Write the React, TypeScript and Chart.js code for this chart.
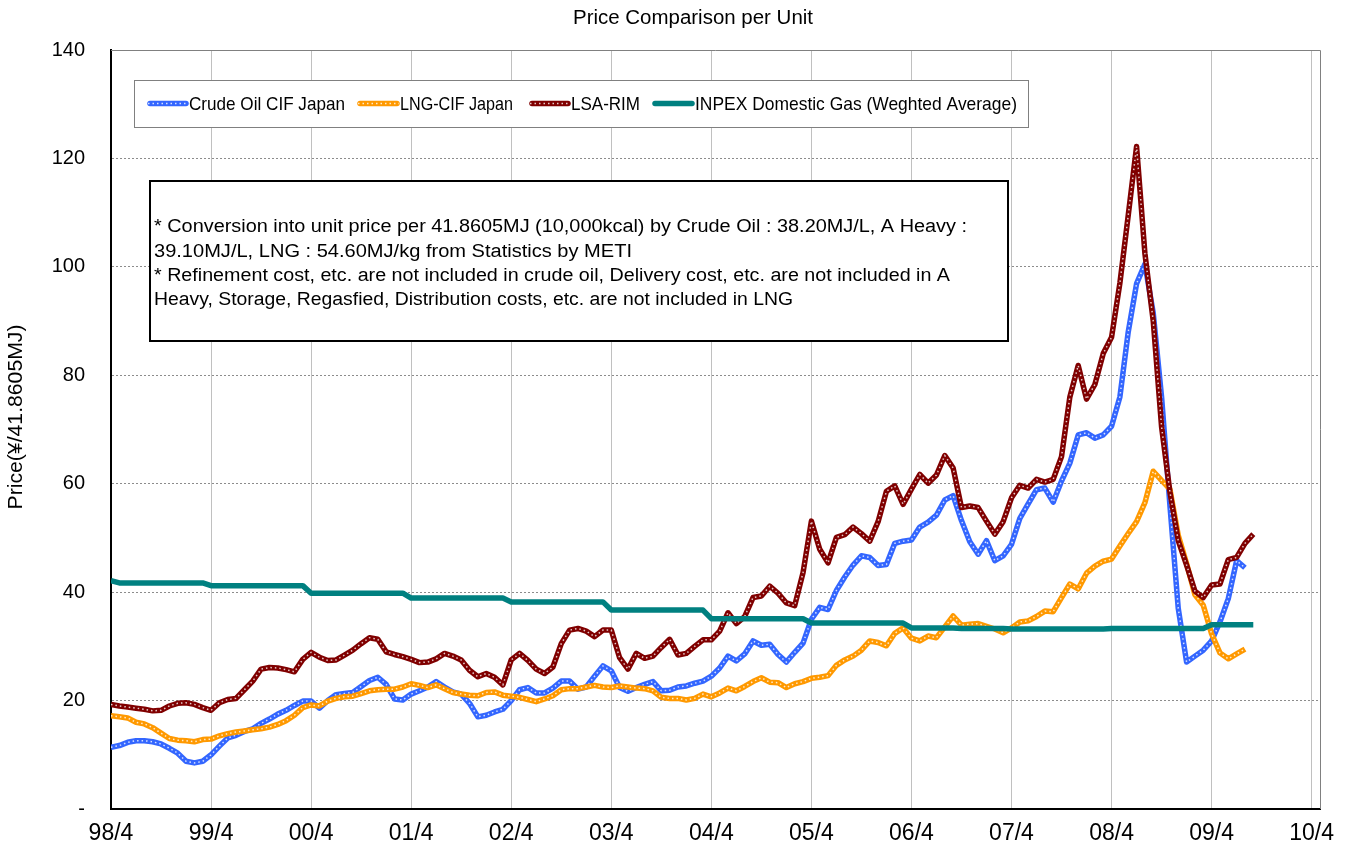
import React, { useEffect, useRef } from 'react';
import { Chart, registerables } from 'chart.js';

Chart.register(...registerables);

const FONT = "'Liberation Sans', Arial, sans-serif";

// month index 0 = 98/4
const xTickValues = [0, 12, 24, 36, 48, 60, 72, 84, 96, 108, 120, 132, 144];
const xTickLabels = ['98/4', '99/4', '00/4', '01/4', '02/4', '03/4', '04/4', '05/4', '06/4', '07/4', '08/4', '09/4', '10/4'];

const seriesNames = ['Crude Oil CIF Japan', 'LNG-CIF Japan', 'LSA-RIM', 'INPEX Domestic Gas (Weghted Average)'];
const seriesColors = ['#3366ff', '#ff9900', '#800000', '#008080'];

const crudeOil = [
  11.4, 11.7, 12.3, 12.6, 12.6, 12.4, 12.0, 11.2, 10.3, 8.8,
  8.5, 8.8, 10.0, 11.6, 13.1, 13.6, 14.3, 14.8, 15.8, 16.6,
  17.5, 18.2, 19.1, 19.9, 19.9, 18.6, 20.0, 21.1, 21.3, 21.5,
  22.6, 23.7, 24.3, 23.0, 20.3, 20.1, 21.2, 21.8, 22.5, 23.5,
  22.5, 21.6, 21.2, 19.5, 17.0, 17.3, 17.9, 18.4, 20.0, 22.0,
  22.4, 21.4, 21.4, 22.3, 23.6, 23.6, 22.1, 22.5, 24.5, 26.4,
  25.5, 22.4, 21.7, 22.4, 23.0, 23.5, 21.8, 21.9, 22.5, 22.7,
  23.2, 23.6, 24.5, 26.0, 28.2, 27.3, 28.6, 31.0, 30.2, 30.4,
  28.5, 27.1, 28.9, 30.6, 35.0, 37.2, 36.8, 40.3, 42.8, 45.0,
  46.7, 46.4, 44.9, 45.1, 49.0, 49.4, 49.6, 52.0, 52.9, 54.2,
  57.0, 57.8, 53.2, 49.3, 47.0, 49.5, 45.8, 46.7, 48.8, 53.6,
  56.3, 58.9, 59.2, 56.6, 60.5, 63.8, 69.0, 69.4, 68.4, 69.0,
  70.6, 76.0, 88.0, 96.9, 100.5, 91.5, 76.0, 56.0, 37.0, 27.1,
  28.2, 29.3, 31.0, 34.5, 38.8, 45.8, 44.5,
];

const lngCif = [
  17.2, 17.0, 16.8, 16.0, 15.7, 15.0, 14.0, 13.0, 12.7, 12.6,
  12.4, 12.8, 12.9, 13.5, 13.9, 14.2, 14.4, 14.6, 14.8, 15.1,
  15.6, 16.3, 17.3, 18.7, 19.2, 19.0, 19.9, 20.4, 20.7, 20.8,
  21.3, 21.8, 22.0, 22.1, 22.1, 22.5, 23.1, 22.8, 22.4, 22.9,
  22.2, 21.5, 21.2, 21.0, 20.9, 21.5, 21.6, 21.0, 20.8, 20.6,
  20.2, 19.8, 20.3, 20.9, 22.0, 22.2, 22.2, 22.5, 22.8, 22.5,
  22.4, 22.7, 22.5, 22.3, 22.2, 21.8, 20.6, 20.4, 20.4, 20.1,
  20.4, 21.2, 20.7, 21.4, 22.3, 21.8, 22.6, 23.5, 24.2, 23.4,
  23.3, 22.4, 23.1, 23.5, 24.1, 24.3, 24.6, 26.5, 27.5, 28.2,
  29.3, 31.0, 30.7, 30.1, 32.4, 33.4, 31.5, 31.0, 31.9, 31.6,
  33.6, 35.6, 33.9, 34.1, 34.2, 33.7, 33.2, 32.5, 33.4, 34.5,
  34.7, 35.5, 36.5, 36.4, 39.0, 41.5, 40.6, 43.5, 44.8, 45.7,
  46.1, 48.5, 50.8, 53.0, 56.5, 62.3, 60.6, 59.0, 50.5, 45.3,
  39.5, 37.6, 32.3, 28.8, 27.7, 28.6, 29.5,
];

const lsaRim = [
  19.3, 19.0, 18.8, 18.6, 18.4, 18.1, 18.2, 19.0, 19.5, 19.6,
  19.3, 18.7, 18.2, 19.6, 20.2, 20.4, 22.0, 23.6, 25.8, 26.1,
  26.0, 25.7, 25.3, 27.6, 28.9, 28.0, 27.4, 27.5, 28.4, 29.3,
  30.5, 31.6, 31.3, 29.0, 28.5, 28.1, 27.6, 27.0, 27.1, 27.7,
  28.7, 28.2, 27.5, 25.6, 24.4, 25.0, 24.3, 22.9, 27.5, 28.7,
  27.4, 25.8, 25.0, 26.2, 30.5, 33.0, 33.3, 32.8, 31.8, 33.0,
  33.0, 27.9, 25.8, 28.7, 27.8, 28.2, 29.8, 31.3, 28.4, 28.7,
  30.0, 31.2, 31.2, 32.8, 36.2, 34.2, 35.5, 39.0, 39.3, 41.1,
  39.8, 38.0, 37.5, 43.6, 53.1, 47.9, 45.4, 50.1, 50.6, 52.0,
  50.8, 49.4, 53.0, 58.6, 59.6, 56.2, 59.0, 61.7, 60.1, 61.6,
  65.2, 62.9, 55.6, 55.9, 55.6, 53.1, 50.7, 53.0, 57.4, 59.7,
  59.2, 60.8, 60.3, 60.8, 65.0, 76.0, 81.8, 75.6, 78.3, 84.0,
  87.0, 97.0, 109.5, 122.2, 102.5, 90.0, 70.5, 58.5, 49.5, 45.0,
  40.2, 39.0, 41.3, 41.5, 46.0, 46.4, 49.0, 50.7,
];

const inpexGas = [
  42.1, 41.7, 41.7, 41.7, 41.7, 41.7, 41.7, 41.7, 41.7, 41.7,
  41.7, 41.7, 41.2, 41.2, 41.2, 41.2, 41.2, 41.2, 41.2, 41.2,
  41.2, 41.2, 41.2, 41.2, 39.8, 39.8, 39.8, 39.8, 39.8, 39.8,
  39.8, 39.8, 39.8, 39.8, 39.8, 39.8, 38.9, 38.9, 38.9, 38.9,
  38.9, 38.9, 38.9, 38.9, 38.9, 38.9, 38.9, 38.9, 38.2, 38.2,
  38.2, 38.2, 38.2, 38.2, 38.2, 38.2, 38.2, 38.2, 38.2, 38.2,
  36.7, 36.7, 36.7, 36.7, 36.7, 36.7, 36.7, 36.7, 36.7, 36.7,
  36.7, 36.7, 35.1, 35.1, 35.1, 35.1, 35.1, 35.1, 35.1, 35.1,
  35.1, 35.1, 35.1, 35.1, 34.3, 34.3, 34.3, 34.3, 34.3, 34.3,
  34.3, 34.3, 34.3, 34.3, 34.3, 34.3, 33.4, 33.4, 33.4, 33.4,
  33.4, 33.4, 33.3, 33.3, 33.3, 33.3, 33.3, 33.3, 33.2, 33.2,
  33.2, 33.2, 33.2, 33.2, 33.2, 33.2, 33.2, 33.2, 33.2, 33.2,
  33.3, 33.3, 33.3, 33.3, 33.3, 33.3, 33.3, 33.3, 33.3, 33.3,
  33.3, 33.3, 34.0, 34.0, 34.0, 34.0, 34.0, 34.0,
];

const chartTitle = 'Price Comparison per Unit';
const yAxisTitle = 'Price(¥/41.8605MJ)';
const noteLines = [
  '* Conversion into unit price per 41.8605MJ (10,000kcal) by Crude Oil : 38.20MJ/L, A Heavy :',
  '39.10MJ/L, LNG : 54.60MJ/kg from Statistics by METI',
  '* Refinement cost, etc. are not included in crude oil, Delivery cost, etc. are not included in A',
  'Heavy, Storage, Regasfied, Distribution costs, etc. are not included in LNG',
];

// layout constants (pixels) for title, axis title, legend and note box
const titlePos = { cx: 693, cy: 18, w: 240 };
const yTitlePos = { cx: 16, cy: 417, w: 185 };
const legendBox = { x: 134, y: 80, w: 894, h: 47 };
const legendSampleX = [148, 358, 530, 653];
const legendTextX = [189, 400, 571, 695];
const legendTextW = [156, 113, 69, 322];
const noteBox = { x: 150, y: 181, w: 858, h: 160 };
const noteLineY = [227, 252, 276, 300];
const noteLineW = [813, 478, 796, 639];

function fitText(ctx: CanvasRenderingContext2D, text: string, x: number, y: number, w: number) {
  const m = ctx.measureText(text).width;
  const sx = w / m;
  ctx.save();
  ctx.translate(x, y);
  ctx.scale(sx, 1);
  ctx.fillText(text, 0, 0);
  ctx.restore();
}

function drawSample(ctx: CanvasRenderingContext2D, x1: number, x2: number, y: number, color: string, dotted: boolean) {
  ctx.save();
  ctx.lineCap = 'round';
  ctx.strokeStyle = color;
  ctx.lineWidth = 5.5;
  ctx.beginPath();
  ctx.moveTo(x1 + 2, y);
  ctx.lineTo(x2 - 2, y);
  ctx.stroke();
  if (dotted) {
    ctx.lineCap = 'butt';
    ctx.strokeStyle = 'rgba(255,255,255,0.8)';
    ctx.lineWidth = 1.5;
    ctx.setLineDash([1.5, 3]);
    ctx.beginPath();
    ctx.moveTo(x1, y);
    ctx.lineTo(x2, y);
    ctx.stroke();
  }
  ctx.restore();
}

export default function App() {
  const ref = useRef<HTMLCanvasElement>(null);

  useEffect(() => {
    const canvas = ref.current;
    if (!canvas) return;
    const pts = (arr: number[]) => arr.map((v, i) => ({ x: i, y: v }));
    const seriesData = [crudeOil, lngCif, lsaRim, inpexGas];

    const datasets: any[] = [];
    seriesData.forEach((arr, i) => {
      const base = (4 - i) * 2;
      datasets.push({
        label: seriesNames[i],
        data: pts(arr),
        borderColor: seriesColors[i],
        backgroundColor: seriesColors[i],
        borderWidth: 5.5,
        pointRadius: 0,
        tension: 0,
        borderJoinStyle: 'round',
        order: base,
      });
      if (i < 3) {
        datasets.push({
          label: seriesNames[i] + ' dots',
          data: pts(arr),
          borderColor: 'rgba(255,255,255,0.8)',
          borderWidth: 1.5,
          borderDash: [1.5, 3],
          pointRadius: 0,
          tension: 0,
          order: base - 1,
        });
      }
    });

    const decorPlugin = {
      id: 'decor',
      beforeDatasetsDraw(chart: any) {
        const { ctx, chartArea } = chart;
        ctx.save();
        ctx.strokeStyle = '#808080';
        ctx.lineWidth = 1;
        ctx.beginPath();
        ctx.moveTo(chartArea.left, chartArea.top + 0.5);
        ctx.lineTo(chartArea.right + 0.5, chartArea.top + 0.5);
        ctx.lineTo(chartArea.right + 0.5, chartArea.bottom);
        ctx.stroke();
        ctx.restore();
      },
      afterDatasetsDraw(chart: any) {
        const { ctx } = chart;
        ctx.save();
        ctx.fillStyle = '#000000';
        ctx.textBaseline = 'middle';
        // chart title
        ctx.font = `20px ${FONT}`;
        ctx.textAlign = 'left';
        fitText(ctx, chartTitle, titlePos.cx - titlePos.w / 2, titlePos.cy, titlePos.w);
        // y axis title (rotated)
        ctx.save();
        ctx.translate(yTitlePos.cx, yTitlePos.cy);
        ctx.rotate(-Math.PI / 2);
        fitText(ctx, yAxisTitle, -yTitlePos.w / 2, 0, yTitlePos.w);
        ctx.restore();
        // legend
        ctx.fillStyle = '#ffffff';
        ctx.fillRect(legendBox.x, legendBox.y, legendBox.w, legendBox.h);
        ctx.strokeStyle = '#808080';
        ctx.lineWidth = 1;
        ctx.strokeRect(legendBox.x + 0.5, legendBox.y + 0.5, legendBox.w, legendBox.h);
        const ly = legendBox.y + legendBox.h / 2;
        ctx.font = `19px ${FONT}`;
        seriesNames.forEach((name, i) => {
          const sx = legendSampleX[i];
          drawSample(ctx, sx, legendTextX[i] - 1, ly, seriesColors[i], i < 3);
          ctx.fillStyle = '#000000';
          fitText(ctx, name, legendTextX[i], ly + 1, legendTextW[i]);
        });
        // note box
        ctx.fillStyle = '#ffffff';
        ctx.fillRect(noteBox.x, noteBox.y, noteBox.w, noteBox.h);
        ctx.strokeStyle = '#000000';
        ctx.lineWidth = 2;
        ctx.strokeRect(noteBox.x, noteBox.y, noteBox.w, noteBox.h);
        ctx.fillStyle = '#000000';
        ctx.font = `18px ${FONT}`;
        noteLines.forEach((line, i) => {
          fitText(ctx, line, noteBox.x + 4, noteLineY[i], noteLineW[i]);
        });
        ctx.restore();
      },
    };

    const chart = new Chart(canvas, {
      type: 'line',
      data: { datasets },
      plugins: [decorPlugin],
      options: {
        animation: false,
        responsive: false,
        layout: { padding: { left: 0, right: 30, top: 50, bottom: 0 } },
        plugins: {
          legend: { display: false },
          tooltip: { enabled: false },
          title: { display: false },
        },
        scales: {
          x: {
            type: 'linear',
            min: 0,
            max: 145,
            afterBuildTicks: (scale: any) => {
              scale.ticks = xTickValues.map((v) => ({ value: v }));
            },
            afterFit: (scale: any) => {
              scale.height = 37;
            },
            ticks: {
              autoSkip: false,
              maxRotation: 0,
              padding: 11,
              color: '#000000',
              font: { family: FONT, size: 23 },
              callback: (value: any) => {
                const idx = xTickValues.indexOf(Number(value));
                return idx >= 0 ? xTickLabels[idx] : '';
              },
            },
            grid: { color: '#c0c0c0', lineWidth: 1, drawTicks: false },
            border: { display: true, color: '#000000', width: 2 },
          },
          y: {
            min: 0,
            max: 140,
            afterFit: (scale: any) => {
              scale.width = 111;
            },
            ticks: {
              stepSize: 20,
              padding: 26,
              color: '#000000',
              font: { family: FONT, size: 20 },
              callback: (value: any) => (Number(value) === 0 ? '-' : String(value)),
            },
            grid: { color: '#8c8c8c', lineWidth: 1, drawTicks: false },
            border: { display: true, color: '#000000', width: 2, dash: [2, 2] },
          },
        },
      },
    } as any);

    return () => chart.destroy();
  }, []);

  return (
    <div style={{ position: 'absolute', left: 0, top: 0, width: 1350, height: 847, background: '#ffffff' }}>
      <canvas ref={ref} width={1350} height={847} style={{ display: 'block' }} />
    </div>
  );
}
